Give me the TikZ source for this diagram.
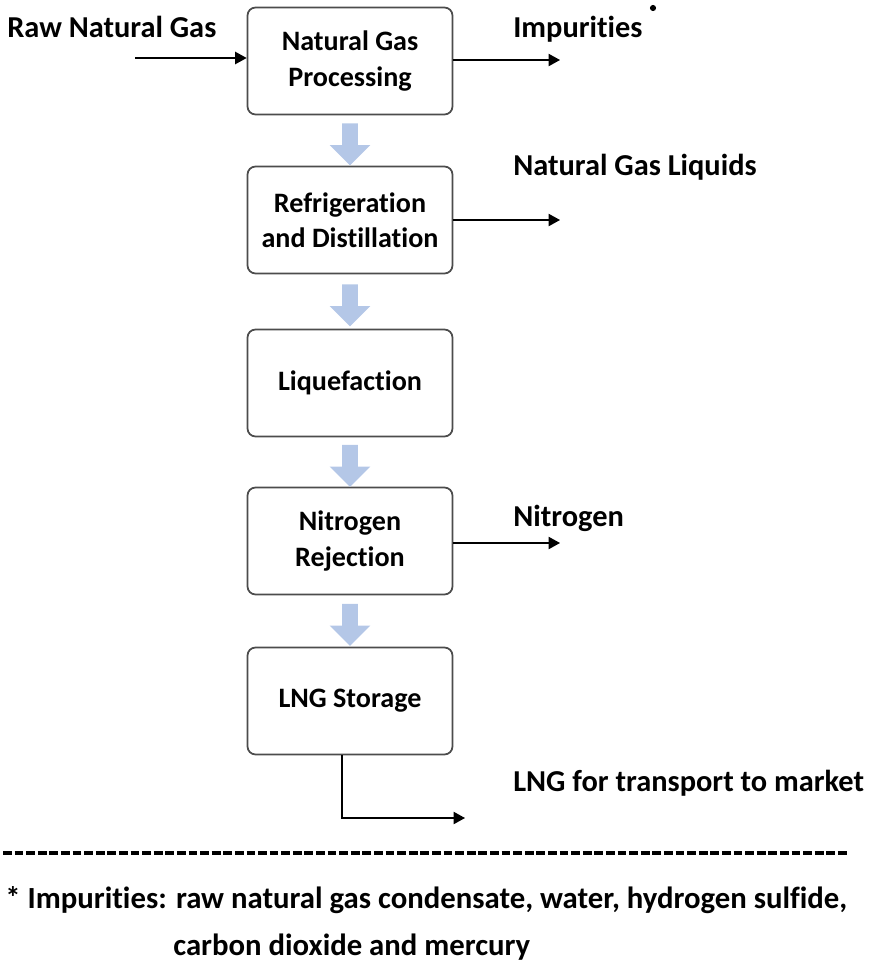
\documentclass[tikz,border=0pt]{standalone}
\usepackage{fontspec}
\setmainfont{Carlito}[Ligatures=NoCommon]
\usetikzlibrary{arrows.meta,shapes.arrows,calc}
\definecolor{flowblue}{RGB}{180,199,231}

\begin{document}
\begin{tikzpicture}[x=0.02cm, y=-0.02cm,
  stage/.style={draw=black!70, line width=1pt, rounded corners=0.16cm, fill=white,
    minimum width=4.1cm, minimum height=2.14cm, align=center,
    font=\fontsize{16}{20}\selectfont\bfseries},
  flow/.style={single arrow, shape border rotate=270, fill=flowblue, draw=none,
    minimum height=0.84cm, minimum width=0.8cm, single arrow tip angle=90,
    inner sep=0.15cm},
  feed/.style={draw, line width=0.7pt, -{Triangle[length=6.5pt,width=7pt]}},
  lbl/.style={anchor=base west, inner sep=0pt, font=\fontsize{17.3}{20}\selectfont\bfseries},
  note/.style={anchor=base west, inner sep=0pt, font=\fontsize{17.5}{20}\selectfont\bfseries}]
\useasboundingbox (0,0) rectangle (869,964);

\node[stage] (proc) at (350,61) {Natural Gas\\Processing};
\node[stage] (refr) at (350,220) {Refrigeration\\and Distillation};
\node[stage] (liq) at (350,383) {Liquefaction};
\node[stage] (nrej) at (350,541) {Nitrogen\\Rejection};
\node[stage] (store) at (350,701) {LNG Storage};

\foreach \a/\b in {proc/refr,refr/liq,liq/nrej,nrej/store}
  \node[flow] (flow-\a) at ($(\a.south)!0.5!(\b.north)$) {};

\node[lbl] (rawlbl) at (7,37) {Raw Natural Gas};
\node[lbl] (implbl) at (513,37) {Impurities};
\node[circle, fill, inner sep=0pt, minimum size=3.5pt] (impstar) at (653,8) {};
\node[lbl] (ngllbl) at (513,175) {Natural Gas Liquids};
\node[lbl] (n2lbl) at (513,526) {Nitrogen};
\node[lbl] (lnglbl) at (513,791) {LNG for transport to market};

\coordinate (rawin) at (135,58);
\coordinate (impout) at (560,60);
\coordinate (nglout) at (560,220);
\coordinate (n2out) at (560,543);
\coordinate (lngout) at (465,818);

\draw[feed] (rawin) -- (rawin -| proc.west);
\draw[feed] (proc.east |- impout) -- (impout);
\draw[feed] (refr.east |- nglout) -- (nglout);
\draw[feed] (nrej.east |- n2out) -- (n2out);
\draw[feed] ($(store.south)+(-8,0)$) |- (lngout);

\draw[line width=2pt, dash pattern=on 5pt off 1.6pt] (3,853) -- (848,853);
\node[note] (note1) at (5,908) {* Impurities: raw natural gas condensate, water, hydrogen sulfide,};
\node[note] (note2) at (173,955) {carbon dioxide and mercury};
\end{tikzpicture}
\end{document}
